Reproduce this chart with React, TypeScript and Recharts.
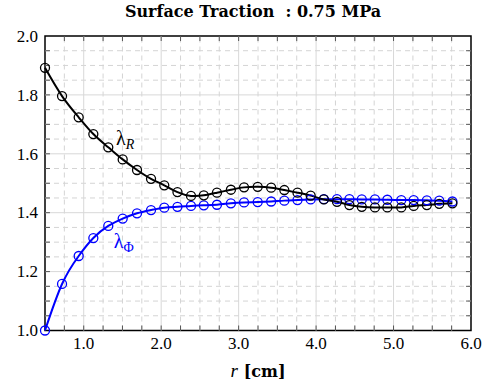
import React from 'react'
import {
  LineChart, Line, XAxis, YAxis, ReferenceLine, ReferenceArea, ReferenceDot, Label,
} from 'recharts'

// radial position r [cm]
const R = [
  0.5, 0.72, 0.935, 1.124, 1.317, 1.503, 1.688, 1.869, 2.04, 2.21, 2.385,
  2.55, 2.72, 2.9, 3.07, 3.246, 3.42, 3.59, 3.76, 3.93, 4.1, 4.27,
  4.43, 4.59, 4.76, 4.92, 5.1, 5.26, 5.43, 5.59, 5.76,
]
const LAMBDA_R = [
  1.892, 1.796, 1.724, 1.667, 1.622, 1.581, 1.545, 1.515, 1.493, 1.47, 1.457,
  1.459, 1.468, 1.478, 1.486, 1.488, 1.485, 1.477, 1.468, 1.458, 1.445, 1.437,
  1.426, 1.42, 1.418, 1.418, 1.418, 1.423, 1.426, 1.43, 1.432,
]
const LAMBDA_PHI = [
  1.0, 1.158, 1.253, 1.314, 1.355, 1.38, 1.398, 1.409, 1.417, 1.42, 1.423,
  1.425, 1.427, 1.432, 1.435, 1.436, 1.438, 1.441, 1.443, 1.445, 1.446, 1.446,
  1.446, 1.445, 1.445, 1.444, 1.443, 1.443, 1.442, 1.441, 1.438,
]

const X_TICKS = [1, 2, 3, 4, 5, 6]
const Y_TICKS = [1.0, 1.2, 1.4, 1.6, 1.8, 2.0]
const X_MAJOR_GRID = [1, 2, 3, 4, 5]
const Y_MAJOR_GRID = [1.2, 1.4, 1.6, 1.8]
const X_MINOR = [0.75, 1.25, 1.5, 1.75, 2.25, 2.5, 2.75, 3.25, 3.5, 3.75, 4.25, 4.5, 4.75, 5.25, 5.5, 5.75]
const Y_MINOR = [1.05, 1.1, 1.15, 1.25, 1.3, 1.35, 1.45, 1.5, 1.55, 1.65, 1.7, 1.75, 1.85, 1.9, 1.95]

const data = R.map((r, i) => ({ r, lr: LAMBDA_R[i], lp: LAMBDA_PHI[i] }))

const SERIF = 'Liberation Serif'
const BOLD_SERIF = 'DejaVu Serif'
const BLUE = '#0000ff'
const TICK_DX = 0.064 // ~5px in x units
const TICK_DY = 0.017 // ~5px in y units

const xTickMarks = [...X_MINOR, ...X_MAJOR_GRID]
const yTickMarks = [...Y_MINOR, ...Y_MAJOR_GRID]

const tickStyle = { fontFamily: SERIF, fontSize: 17 }

const XTick = ({ x, y, payload }: any) => (
  <text x={x} y={y} dy="0.75em" textAnchor="middle" fill="#000" fontFamily={SERIF} fontSize={17} style={tickStyle}>
    {payload.value.toFixed(1)}
  </text>
)
const YTick = ({ x, y, payload }: any) => (
  <text x={x} y={y} dy="0.34em" textAnchor="end" fill="#000" fontFamily={SERIF} fontSize={17} style={tickStyle}>
    {payload.value.toFixed(1)}
  </text>
)

export default function App() {
  return (
    <div style={{
      position: 'absolute', left: 0, top: 0, width: 484, height: 391,
      background: '#fff', fontFamily: SERIF,
    }}>
      <div style={{
        position: 'absolute', left: 40, width: 426, top: 2, textAlign: 'center',
        fontFamily: BOLD_SERIF, fontWeight: 700, fontSize: 16, color: '#000',
      }}>
        Surface Traction&nbsp; : 0.75 MPa
      </div>
      <LineChart
        width={484} height={391} data={data}
        margin={{ top: 36, right: 13, bottom: 0, left: 0 }}
        style={{ fontFamily: SERIF }}
      >
        <XAxis
          dataKey="r" type="number" domain={[0.5, 6]} ticks={X_TICKS}
          height={60.5} tickSize={0} tickMargin={6} axisLine={false} tickLine={false}
          tick={XTick}
        >
          <Label content={({ viewBox }: any) => (
            <text x={viewBox.x + viewBox.width / 2} y={viewBox.y + 46.5} textAnchor="middle" fill="#000">
              <tspan fontFamily={SERIF} style={{ fontFamily: SERIF, fontStyle: 'italic', fontSize: 19 }}>r</tspan>
              <tspan dx={6} fontFamily={BOLD_SERIF} style={{ fontFamily: BOLD_SERIF, fontWeight: 700, fontSize: 16 }}>[cm]</tspan>
            </text>
          )} />
        </XAxis>
        <YAxis
          type="number" domain={[1, 2]} ticks={Y_TICKS}
          width={45} tickSize={0} tickMargin={7} axisLine={false} tickLine={false}
          tick={YTick}
        />

        {X_MINOR.map(v => (
          <ReferenceLine key={'xm' + v} x={v} stroke="#d4d4d4" strokeDasharray="5 4" />
        ))}
        {Y_MINOR.map(v => (
          <ReferenceLine key={'ym' + v} y={v} stroke="#d4d4d4" strokeDasharray="5 4" />
        ))}
        {X_MAJOR_GRID.map(v => (
          <ReferenceLine key={'xg' + v} x={v} stroke="#d8d8d8" />
        ))}
        {Y_MAJOR_GRID.map(v => (
          <ReferenceLine key={'yg' + v} y={v} stroke="#d8d8d8" />
        ))}

        {xTickMarks.map(v => (
          <ReferenceLine key={'xb' + v} segment={[{ x: v, y: 1 }, { x: v, y: 1 + TICK_DY }]} stroke="#555" />
        ))}
        {xTickMarks.map(v => (
          <ReferenceLine key={'xt' + v} segment={[{ x: v, y: 2 }, { x: v, y: 2 - TICK_DY }]} stroke="#555" />
        ))}
        {yTickMarks.map(v => (
          <ReferenceLine key={'yl' + v} segment={[{ x: 0.5, y: v }, { x: 0.5 + TICK_DX, y: v }]} stroke="#555" />
        ))}
        {yTickMarks.map(v => (
          <ReferenceLine key={'yr' + v} segment={[{ x: 6, y: v }, { x: 6 - TICK_DX, y: v }]} stroke="#555" />
        ))}

        <ReferenceArea x1={0.5} x2={6} y1={1} y2={2} fill="none" stroke="#000" strokeWidth={1.5} />

        <Line
          dataKey="lp" type="natural" stroke={BLUE} strokeWidth={2} isAnimationActive={false}
          dot={{ r: 4.5, stroke: BLUE, strokeWidth: 1.3, fill: 'none' }}
        />
        <Line
          dataKey="lr" type="natural" stroke="#000" strokeWidth={2} isAnimationActive={false}
          dot={{ r: 4.5, stroke: '#000', strokeWidth: 1.3, fill: 'none' }}
        />

        <ReferenceDot x={1.43} y={1.63} r={1} fill="none" stroke="none"
          label={{
            content: ({ viewBox }: any) => (
              <text x={viewBox.x} y={viewBox.y + 1} fill="#000" fontFamily={SERIF} style={{ fontFamily: SERIF, fontSize: 20 }}>
                λ<tspan dy={4} style={{ fontFamily: SERIF, fontStyle: 'italic', fontSize: 14 }}>R</tspan>
              </text>
            ),
          }}
        />
        <ReferenceDot x={1.4} y={1.28} r={1} fill="none" stroke="none"
          label={{
            content: ({ viewBox }: any) => (
              <text x={viewBox.x} y={viewBox.y + 1} fill={BLUE} fontFamily={SERIF} style={{ fontFamily: SERIF, fontSize: 20 }}>
                λ<tspan dy={4} style={{ fontFamily: SERIF, fontSize: 14 }}>Φ</tspan>
              </text>
            ),
          }}
        />
      </LineChart>
    </div>
  )
}
